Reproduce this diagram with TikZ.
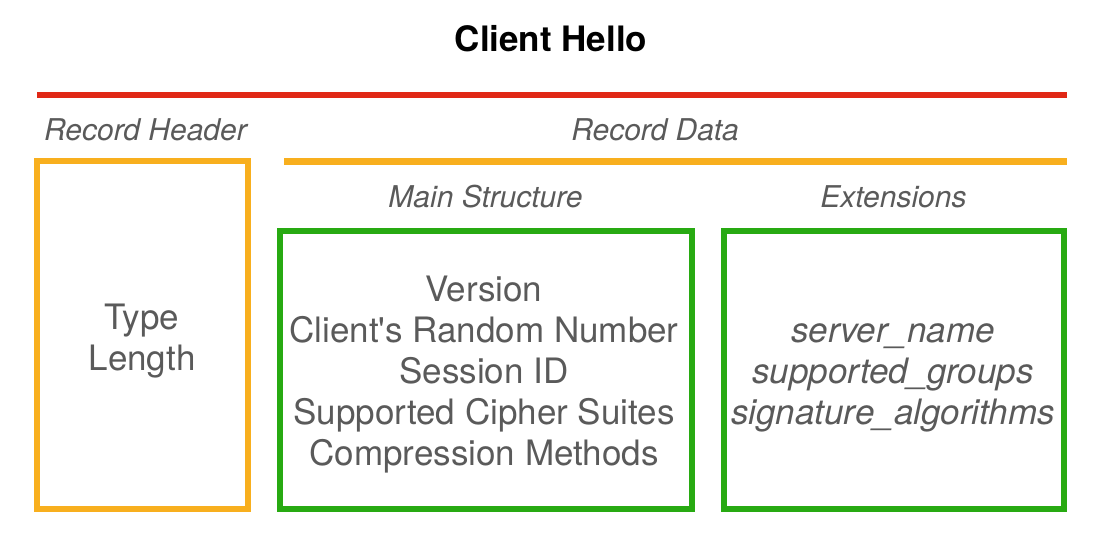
\documentclass[tikz,border=0pt]{standalone}
\usepackage{fontspec}
\setmainfont{TeX Gyre Heros}
\usetikzlibrary{positioning}
\definecolor{hellored}{RGB}{224,40,22}
\definecolor{helloorange}{RGB}{248,175,30}
\definecolor{hellogreen}{RGB}{40,170,18}
\definecolor{hellogray}{RGB}{90,90,90}

\begin{document}
\begin{tikzpicture}[x=1pt, y=-1pt,
    bigtext/.style={font=\fontsize{35}{41}\selectfont, text=hellogray, align=center, anchor=base},
    lbl/.style={font=\itshape\fontsize{30}{36}\selectfont, text=hellogray, anchor=base},
    hdrbox/.style={draw=helloorange, line width=6pt},
    fieldbox/.style={draw=hellogreen, line width=6pt}]
        \useasboundingbox (0,0) rectangle (1112,542);
        % title %
        \node[font=\bfseries\fontsize{35}{41}\selectfont, anchor=base] (title) at (551,51) {Client Hello};
        % rules %
        \coordinate (recl) at (37,95);
        \coordinate (recr) at (1067,95);
        \coordinate (datal) at (284,161.5);
        \coordinate (datar) at (1067,161.5);
        \draw[hellored, line width=6.5pt] (recl) -- (recr);
        \draw[helloorange, line width=6.5pt] (datal) -- (datar);
        % labels %
        \node[lbl] (hdrlbl) at (145.5,140) {Record Header};
        \node[lbl] (datalbl) at (655,140) {Record Data};
        \node[lbl] (mainlbl) at (485.5,207) {Main Structure};
        \node[lbl] (extlbl) at (893.5,207) {Extensions};
        % boxes %
        \node[hdrbox, minimum width=211, minimum height=348] (hdr) at (142.5,335) {};
        \node[fieldbox, minimum width=412, minimum height=278.5] (main) at (486,369.75) {};
        \node[fieldbox, minimum width=340, minimum height=278.5] (ext) at (894,369.75) {};
        % box contents (anchored on the last line) %
        \node[bigtext] (hdrtxt) at (142,370) {Type\\Length};
        \node[bigtext] (maintxt) at (484,465.5) {Version\\Client\textquotesingle s Random Number\\Session ID\\Supported Cipher Suites\\Compression Methods};
        \node[bigtext, font=\itshape\fontsize{35}{41}\selectfont] (exttxt) at (893,424.5) {server\_name\\supported\_groups\\signature\_algorithms};
\end{tikzpicture}
\end{document}
